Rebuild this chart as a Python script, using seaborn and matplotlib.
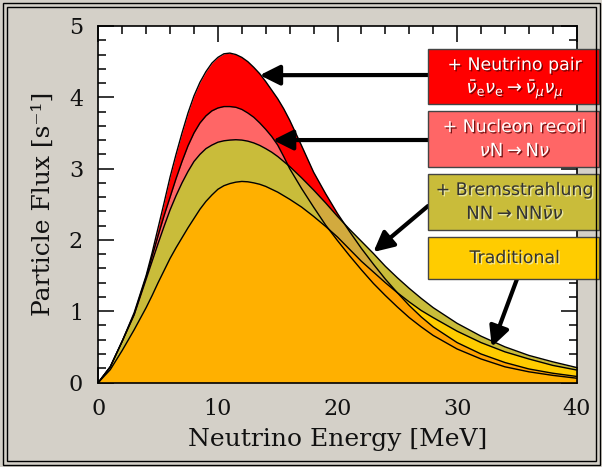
import numpy as np
import pandas as pd
import matplotlib
matplotlib.use("Agg")
import matplotlib.pyplot as plt
import matplotlib.patheffects as pe
from matplotlib.patches import Rectangle
from matplotlib.ticker import MultipleLocator
import seaborn as sns

# ---------------- data ----------------
energy = [0, 1, 2, 3,
          4, 4.5, 5, 5.5, 6, 6.5, 7, 7.5, 8, 8.5, 9, 9.5, 10, 10.5, 11, 11.5,
          12, 12.5, 13, 13.5, 14, 14.5, 15, 15.5, 16,
          17, 18, 19, 20, 21, 22, 23, 24, 25, 26, 27, 28,
          30, 32, 34, 36, 38, 40]
flux_pair = [0, 0.22, 0.58, 0.98,
             1.50, 1.82, 2.17, 2.52, 2.88, 3.20, 3.50, 3.78, 4.02, 4.21, 4.36, 4.48, 4.56, 4.61, 4.62, 4.60,
             4.56, 4.50, 4.42, 4.33, 4.22, 4.10, 3.98, 3.84, 3.68,
             3.32, 2.95, 2.65, 2.37, 2.12, 1.88, 1.66, 1.45, 1.26, 1.08, 0.92, 0.78,
             0.56, 0.40, 0.28, 0.19, 0.13, 0.085]
flux_recoil = [0, 0.22, 0.58, 0.96,
               1.48, 1.77, 2.06, 2.34, 2.60, 2.86, 3.10, 3.32, 3.50, 3.64, 3.74, 3.81, 3.85, 3.87, 3.87, 3.86,
               3.83, 3.78, 3.72, 3.64, 3.55, 3.45, 3.33, 3.17, 3.00,
               2.72, 2.46, 2.21, 1.99, 1.78, 1.58, 1.39, 1.22, 1.06, 0.91, 0.78, 0.66,
               0.47, 0.33, 0.22, 0.15, 0.10, 0.06]
flux_brems = [0, 0.22, 0.58, 0.95,
              1.45, 1.70, 1.95, 2.19, 2.42, 2.62, 2.80, 2.96, 3.10, 3.20, 3.28, 3.33, 3.37, 3.39, 3.40, 3.405,
              3.40, 3.385, 3.36, 3.325, 3.28, 3.23, 3.17, 3.10, 3.03,
              2.87, 2.70, 2.52, 2.33, 2.15, 1.98, 1.81, 1.63, 1.47, 1.32, 1.18, 1.05,
              0.83, 0.65, 0.50, 0.38, 0.29, 0.21]
flux_trad = [0, 0.18, 0.45, 0.74,
             1.05, 1.22, 1.40, 1.57, 1.74, 1.89, 2.03, 2.17, 2.30, 2.43, 2.54, 2.63, 2.71, 2.76, 2.79, 2.81,
             2.82, 2.815, 2.80, 2.78, 2.75, 2.71, 2.67, 2.62, 2.57,
             2.46, 2.33, 2.19, 2.04, 1.87, 1.70, 1.55, 1.40, 1.26, 1.13, 1.01, 0.91,
             0.72, 0.56, 0.43, 0.33, 0.24, 0.175]

series_names = ["pair", "recoil", "brems", "trad"]
legend_line1 = ["+ Neutrino pair", "+ Nucleon recoil", "+ Bremsstrahlung", "Traditional"]
legend_line2 = [r"$\bar{\nu}_{\mathrm{e}}\nu_{\mathrm{e}} \rightarrow \bar{\nu}_{\mu}\nu_{\mu}$",
                r"$\nu\mathrm{N} \rightarrow \mathrm{N}\nu$",
                r"$\mathrm{NN} \rightarrow \mathrm{NN}\bar{\nu}\nu$",
                None]

# colours
C_RED = "#ff0000"
C_PINK = "#ff6666"
C_OLIVE = "#c9bc3a"
C_KHAKI = "#d2aa3e"
C_YELLOW = "#ffcc00"
C_DORANGE = "#ffa200"
C_ORANGE = "#ffb000"
BG = "#d4d0c8"

sns.set_theme(style="ticks")
plt.rcParams["mathtext.fontset"] = "dejavusans"
plt.rcParams["font.family"] = ["DejaVu Sans"]

W, H = 602, 467
fig = plt.figure(figsize=(W / 100, H / 100), dpi=100, facecolor=BG)
ax = fig.add_axes([98.3 / W, (H - 382.5) / H, (576.7 - 98.3) / W, (382.5 - 26) / H])
ax.set_facecolor("white")

E = np.array(energy)
r = np.array(flux_pair)
p = np.array(flux_recoil)
o = np.array(flux_brems)
t = np.array(flux_trad)

# layered fills
ax.fill_between(E, 0, r, color=C_RED, lw=0, zorder=1)
ax.fill_between(E, 0, p, color=C_PINK, lw=0, zorder=1.1)
ax.fill_between(E, 0, o, color=C_OLIVE, lw=0, zorder=1.2)
ro = np.minimum(r, o)
ax.fill_between(E, p, ro, where=ro > p, interpolate=True, color=C_KHAKI, lw=0, zorder=1.3)
ax.fill_between(E, 0, t, color=C_YELLOW, lw=0, zorder=1.4)
ax.fill_between(E, 0, np.minimum(t, r), color=C_DORANGE, lw=0, zorder=1.5)
ax.fill_between(E, 0, np.minimum.reduce([r, p, o, t]), color=C_ORANGE, lw=0, zorder=1.6)

df = pd.DataFrame({
    "E": np.tile(E, 4),
    "flux": np.concatenate([r, p, o, t]),
    "series": np.repeat(series_names, len(E)),
})
sns.lineplot(data=df, x="E", y="flux", hue="series",
             palette={n: "black" for n in series_names}, legend=False,
             lw=1.0, ax=ax, zorder=3, sort=False)

ax.set_xlim(0, 40)
ax.set_ylim(0, 5)
ax.xaxis.set_major_locator(MultipleLocator(10))
ax.xaxis.set_minor_locator(MultipleLocator(2))
ax.yaxis.set_major_locator(MultipleLocator(1))
ax.yaxis.set_minor_locator(MultipleLocator(0.2))
ax.tick_params(which="both", direction="in", top=True, right=True, color="black", width=1.1)
ax.tick_params(which="major", length=11.5, pad=11, labelsize=16, labelcolor="#111111")
ax.tick_params(which="minor", length=6)
for lab in ax.get_xticklabels() + ax.get_yticklabels():
    lab.set_family("DejaVu Serif")
for s in ax.spines.values():
    s.set_linewidth(1.2)
    s.set_color("black")

ax.set_xlabel("Neutrino Energy [MeV]", family="DejaVu Serif", fontsize=18, labelpad=6, color="#111111")
ax.set_ylabel("Particle Flux [s⁻¹]", family="DejaVu Serif", fontsize=18, labelpad=10, color="#111111")

# legend boxes
boxes = [(49, 104, C_RED), (111, 167, C_PINK), (174, 230, C_OLIVE), (237, 279, C_YELLOW)]
x0, x1 = 428, 599
for i, (yt, yb, col) in enumerate(boxes):
    fig.patches.append(Rectangle((x0 / W, (H - yb) / H), (x1 - x0) / W, (yb - yt) / H,
                                 transform=fig.transFigure, facecolor=col,
                                 edgecolor="#444444", lw=1.0, zorder=5))
    light = i < 2
    tc = "white" if light else "#333333"
    sc = "#550000" if light else "#f0f0c0"
    eff = [pe.SimplePatchShadow(offset=(1, -1), shadow_rgbFace=sc, alpha=0.8), pe.Normal()]
    xc = 515 / W
    if legend_line2[i] is None:
        fig.text(xc, (H - (yt + yb) / 2) / H, legend_line1[i], ha="center", va="center",
                 fontsize=12.5, color=tc, path_effects=eff, zorder=6)
    else:
        fig.text(xc, (H - (yt + 16)) / H, legend_line1[i], ha="center", va="center",
                 fontsize=12.5, color=tc, path_effects=eff, zorder=6)
        fig.text(xc, (H - (yt + 40)) / H, legend_line2[i], ha="center", va="center",
                 fontsize=13, color=tc, path_effects=eff, zorder=6)

# arrows (tip in data coords, tail at box edge in figure pixels)
arrows = [((13.5, 4.31), (428, 75)), ((14.6, 3.40), (428, 140)),
          ((23.0, 1.83), (428, 206)), ((32.9, 0.50), (517, 279))]
for tip, tail in arrows:
    ax.annotate("", xy=tip, xycoords="data", xytext=(tail[0], H - tail[1]),
                textcoords="figure pixels", annotation_clip=False,
                arrowprops=dict(arrowstyle="-|>,head_length=0.6,head_width=0.3",
                                mutation_scale=20, lw=3, color="black",
                                shrinkA=0, shrinkB=0), zorder=4)

# outer frame
fig.patches.append(Rectangle((2.5 / W, 2.5 / H), (W - 5) / W, (H - 5) / H, transform=fig.transFigure,
                             fill=False, edgecolor="black", lw=1.0, zorder=7))
fig.patches.append(Rectangle((6.5 / W, 6.5 / H), (W - 13) / W, (H - 13) / H, transform=fig.transFigure,
                             fill=False, edgecolor="black", lw=1.0, zorder=7))

fig.savefig("out.png", dpi=100, facecolor=BG)
